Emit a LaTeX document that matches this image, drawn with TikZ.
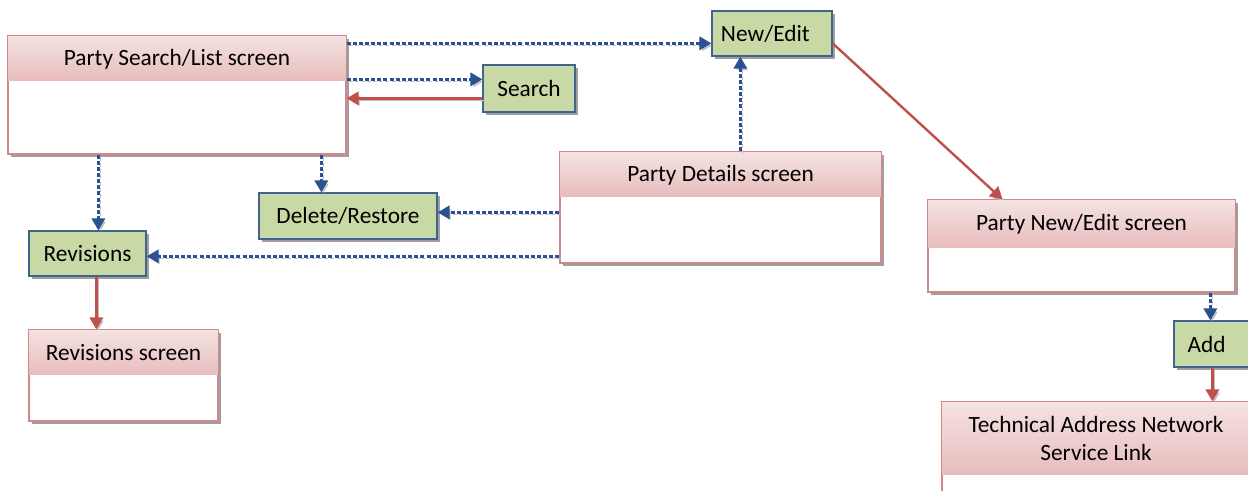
\documentclass[tikz,border=0pt]{standalone}
\usepackage{fontspec}
\setmainfont{Carlito}
\usetikzlibrary{shadows,arrows.meta,calc}
\definecolor{hdrtop}{HTML}{F5E3E3}
\definecolor{hdrbot}{HTML}{E8BCBC}
\definecolor{scrb}{HTML}{D4878A}
\definecolor{grf}{HTML}{C9D9A5}
\definecolor{grb}{HTML}{41648F}
\definecolor{blu}{HTML}{2A5291}
\definecolor{rd}{HTML}{C0504D}
\tikzset{
  wh/.style 2 args={minimum width=#1*0.75pt, minimum height=#2*0.75pt},
  shd/.style={drop shadow={shadow xshift=2.5pt, shadow yshift=-2.5pt, fill=gray!75, opacity=1}},
  scr/.style={draw=scrb, line width=1pt, fill=white, inner sep=0pt, shd},
  btn/.style={draw=grb, line width=1pt, fill=grf, inner sep=0pt, shd, font=\fontsize{17.5}{21}\selectfont},
  ttl/.style={inner sep=0pt, font=\fontsize{17.5}{21}\selectfont, align=center},
  bl/.style={draw=blu, line width=1.8pt, dash pattern=on 3pt off 1.6pt,
     -{Triangle[length=9pt,width=10pt]},
     preaction={draw=gray!50, dash pattern=on 3pt off 1.6pt, transform canvas={shift={(1.5pt,-1.8pt)}}}},
  rl/.style={draw=rd, line width=1.8pt, -{Triangle[length=9pt,width=10pt]},
     preaction={draw=gray!50, transform canvas={shift={(1.5pt,-1.8pt)}}}},
}
\newcommand\hdr[2]{%
  \shade[top color=hdrtop, bottom color=hdrbot] (#1.north west) rectangle ($(#1.north east)+(0,#2)$);
  \draw[draw=scrb, line width=1pt] (#1.north west) rectangle (#1.south east);}
\begin{document}
\begin{tikzpicture}[x=0.75pt,y=-0.75pt]
\path[use as bounding box] (0,0) rectangle (1248,490);
\clip (0,0) rectangle (1248,490);
% screens
\node[scr, wh={338}{118}] (psl) at (177,95) {};
\hdr{psl}{45}
\node[ttl] (pslt) at (177,59) {Party Search/List screen};
\node[scr, wh={321}{111}] (pd) at (720.5,207.5) {};
\hdr{pd}{45}
\node[ttl] (pdt) at (720.5,175) {Party Details screen};
\node[scr, wh={189}{91}] (rs) at (123.5,375.5) {};
\hdr{rs}{45}
\node[ttl] (rst) at (123.5,353) {Revisions screen};
\node[scr, wh={307}{92}] (pne) at (1081.5,246) {};
\hdr{pne}{48}
\node[ttl] (pnet) at (1081.5,224) {Party New/Edit screen};
\node[scr, wh={308}{108}] (tech) at (1096,456) {};
\hdr{tech}{73}
\node[ttl] (techt) at (1096,438.5) {Technical Address Network\\Service Link};
% buttons
\node[btn, wh={92}{47}] (srch) at (529,88.5) {Search};
\node[btn, wh={120}{45}] (ne) at (772,33.5) {\hspace*{-10pt}New/Edit};
\node[btn, wh={178}{46}] (del) at (348,216) {Delete/Restore};
\node[btn, wh={117}{45}] (rev) at (87.5,253.5) {Revisions};
\node[btn, wh={76}{46}] (add) at (1212,344) {\hspace*{-8pt}Add};
% connectors
\draw[bl] ($(psl.north east)+(0,8)$) coordinate (a1) -- (ne.west |- a1);
\draw[bl] ($(psl.north east)+(0,44)$) coordinate (a2) -- (srch.west |- a2);
\draw[rl] ($(srch.north west)+(0,34)$) coordinate (a3) -- (psl.east |- a3);
\draw[bl] ($(psl.south west)+(91,0)$) coordinate (a4) -- (rev.north -| a4);
\draw[bl] ($(psl.south west)+(314,0)$) coordinate (a5) -- (del.north -| a5);
\draw[bl] ($(pd.north west)+(0,61)$) coordinate (a6) -- (del.east |- a6);
\draw[bl] ($(pd.north west)+(0,105)$) coordinate (a7) -- (rev.east |- a7);
\draw[bl] ($(pd.north west)+(181,0)$) coordinate (a8) -- (ne.south -| a8);
\draw[rl] ($(ne.north east)+(0,33)$) -- ($(pne.north west)+(75,0)$);
\draw[bl] ($(pne.south west)+(283,0)$) coordinate (a9) -- (add.north -| a9);
\draw[rl] ($(add.south west)+(39,0)$) coordinate (a10) -- (tech.north -| a10);
\draw[rl] ($(rev.south west)+(68,0)$) coordinate (a11) -- (rs.north -| a11);
\end{tikzpicture}
\end{document}
